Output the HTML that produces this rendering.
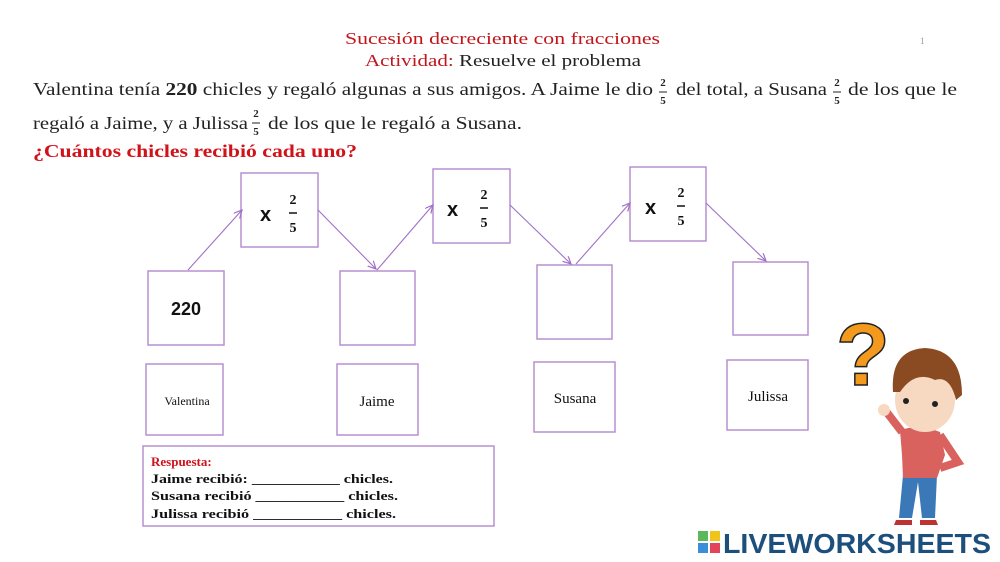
<!DOCTYPE html>
<html><head><meta charset="utf-8"><style>
body{margin:0;background:#fff;}
svg{display:block}
.s{font-family:"Liberation Serif",serif;}
.b{font-family:"Liberation Sans",sans-serif;font-weight:bold;}
</style></head><body>
<svg width="1000" height="562" viewBox="0 0 1000 562" xmlns="http://www.w3.org/2000/svg">
<defs><marker id="a" markerWidth="10" markerHeight="10" refX="8" refY="4" orient="auto" markerUnits="userSpaceOnUse"><path d="M0,0 L8,4 L0,8" fill="none" stroke="#a070c8" stroke-width="1.2"/></marker></defs>
<g class="s">
<text x="345" y="44" font-size="17" fill="#c0161c" textLength="315" lengthAdjust="spacingAndGlyphs">Sucesión decreciente con fracciones</text>
<text x="920" y="44" font-size="9" fill="#999">1</text>
<text x="365" y="66" font-size="17" textLength="276" lengthAdjust="spacingAndGlyphs"><tspan fill="#c0161c">Actividad:</tspan><tspan fill="#222"> Resuelve el problema</tspan></text>
<text x="33" y="95" font-size="18" fill="#222" textLength="620" lengthAdjust="spacingAndGlyphs">Valentina tenía <tspan font-weight="bold">220</tspan> chicles  y regaló algunas a sus amigos. A Jaime le dio</text>
<text x="676" y="95" font-size="18" fill="#222" textLength="151" lengthAdjust="spacingAndGlyphs">del total, a Susana</text>
<text x="848" y="95" font-size="18" fill="#222" textLength="109" lengthAdjust="spacingAndGlyphs">de los que le</text>
<text x="33" y="129" font-size="18" fill="#222" textLength="215" lengthAdjust="spacingAndGlyphs">regaló a Jaime, y a Julissa</text>
<text x="268" y="129" font-size="18" fill="#222" textLength="254" lengthAdjust="spacingAndGlyphs">de los que le regaló a Susana.</text>
<g font-size="11" font-weight="bold" fill="#222" text-anchor="middle">
<text x="663" y="86">2</text><text x="663" y="104">5</text><line x1="659" y1="92" x2="667" y2="92" stroke="#222"/>
<text x="837" y="86">2</text><text x="837" y="104">5</text><line x1="833" y1="92" x2="841" y2="92" stroke="#222"/>
<text x="256" y="117">2</text><text x="256" y="135">5</text><line x1="252" y1="123" x2="260" y2="123" stroke="#222"/>
</g>
<text x="33" y="157" font-size="18" font-weight="bold" fill="#d0131a" textLength="324" lengthAdjust="spacingAndGlyphs">¿Cuántos chicles recibió cada uno?</text>
</g>
<g fill="#fff" stroke="#b890d0" stroke-width="1.5">
<rect x="241" y="173" width="77" height="74"/><rect x="433" y="169" width="77" height="74"/><rect x="630" y="167" width="76" height="74"/>
<rect x="148" y="271" width="76" height="74"/><rect x="340" y="271" width="75" height="74"/><rect x="537" y="265" width="75" height="74"/><rect x="733" y="262" width="75" height="73"/>
<rect x="146" y="364" width="77" height="71"/><rect x="337" y="364" width="81" height="71"/><rect x="534" y="362" width="81" height="70"/><rect x="727" y="360" width="81" height="70"/>
<rect x="143" y="446" width="351" height="80"/>
</g>
<g stroke="#a070c8" stroke-width="1.1" marker-end="url(#a)">
<line x1="188" y1="270" x2="242" y2="210"/><line x1="318" y1="210" x2="376" y2="269"/>
<line x1="377" y1="270" x2="433" y2="205"/><line x1="510" y1="205" x2="571" y2="264"/>
<line x1="576" y1="264" x2="630" y2="203"/><line x1="706" y1="203" x2="766" y2="261"/>
</g>
<g class="b" fill="#111">
<text x="260" y="221" font-size="20">x</text><text x="447" y="216" font-size="20">x</text><text x="645" y="214" font-size="20">x</text>
<g font-size="14" text-anchor="middle" font-family="Liberation Serif,serif">
<text x="293" y="204">2</text><text x="293" y="232">5</text><line x1="289" y1="213" x2="297" y2="213" stroke="#111" stroke-width="1.5"/>
<text x="484" y="199">2</text><text x="484" y="227">5</text><line x1="480" y1="208" x2="488" y2="208" stroke="#111" stroke-width="1.5"/>
<text x="681" y="197">2</text><text x="681" y="225">5</text><line x1="677" y1="206" x2="685" y2="206" stroke="#111" stroke-width="1.5"/>
</g>
<text x="186" y="315" font-size="18" text-anchor="middle">220</text>
</g>
<g class="s" fill="#111" text-anchor="middle">
<text x="187" y="405" font-size="12">Valentina</text>
<text x="377" y="406" font-size="15">Jaime</text>
<text x="575" y="403" font-size="15">Susana</text>
<text x="768" y="401" font-size="15">Julissa</text>
</g>
<g class="s" font-size="13" font-weight="bold" fill="#111">
<text x="151" y="466" fill="#d0131a">Respuesta:</text>
<text x="151" y="483" textLength="242" lengthAdjust="spacingAndGlyphs">Jaime recibió: ___________ chicles.</text>
<text x="151" y="500" textLength="247" lengthAdjust="spacingAndGlyphs">Susana recibió ___________ chicles.</text>
<text x="151" y="518" textLength="245" lengthAdjust="spacingAndGlyphs">Julissa recibió ___________ chicles.</text>
</g>
<text x="836" y="385" font-family="Liberation Sans,sans-serif" font-weight="bold" font-size="88" fill="#f39a1e" stroke="#222" stroke-width="1.5">?</text>
<path d="M903,475 L899,518 L912,518 L918,482 L922,518 L935,518 L937,475 Z" fill="#3b78b8"/>
<path d="M896,520 h16 v5 h-18z M920,520 h16 l2 5 h-18z" fill="#b33"/>
<path d="M900,430 Q920,424 940,432 L945,455 L937,478 L903,478 L902,455 Z" fill="#d9625e"/>
<path d="M940,435 L958,462 L940,468" fill="none" stroke="#d9625e" stroke-width="8"/>
<path d="M902,432 L885,410" stroke="#d9625e" stroke-width="8"/>
<ellipse cx="925" cy="400" rx="30" ry="32" fill="#f7d8c0"/>
<path d="M893,392 Q890,350 925,348 Q962,350 962,395 L956,400 Q950,375 935,380 Q915,370 900,392 Z" fill="#8a4a22"/>
<circle cx="906" cy="401" r="3" fill="#222"/><circle cx="935" cy="404" r="3" fill="#222"/>
<ellipse cx="884" cy="410" rx="6" ry="6" fill="#f7d8c0"/>
<rect x="698" y="531" width="10" height="10" fill="#5cb85c"/><rect x="710" y="531" width="10" height="10" fill="#f0c419"/>
<rect x="698" y="543" width="10" height="10" fill="#3a8fd8"/><rect x="710" y="543" width="10" height="10" fill="#e2445c"/>
<text x="723" y="553" font-family="Liberation Sans,sans-serif" font-weight="bold" font-size="28" fill="#1d4f7c" textLength="268" lengthAdjust="spacingAndGlyphs">LIVEWORKSHEETS</text>
</svg>
</body></html>
